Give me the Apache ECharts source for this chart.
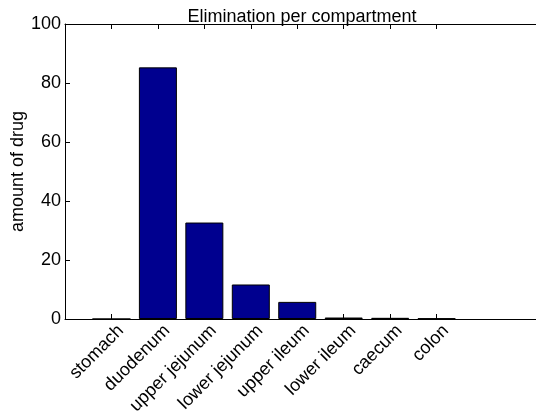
<!DOCTYPE html>
<html>
<head>
<meta charset="utf-8">
<script src="https://cdn.jsdelivr.net/npm/echarts@6/dist/echarts.min.js"></script>
<style>
  html, body { margin: 0; padding: 0; background: #fff; }
  #chart { width: 536px; height: 418px; }
</style>
</head>
<body>
<div id="chart"></div>
<script>
// Compartments of the gut, in order along the tract
const categories = ['stomach', 'duodenum', 'upper jejunum', 'lower jejunum',
                    'upper ileum', 'lower ileum', 'caecum', 'colon'];
// Amount of drug eliminated in each compartment
const amounts = [0, 85.3, 32.7, 11.7, 5.8, 0.5, 0.4, 0.2];
// Y axis tick values
const yTicks = [0, 20, 40, 60, 80, 100];

const positions = categories.map((_, i) => i + 1);
const barData = amounts.map((v, i) => [positions[i], v]);
// rotated labels sit slightly right of their tick
const labelPositions = positions.map(p => p + 0.2);

const font = '"Liberation Sans", Arial, Helvetica, sans-serif';
const chart = echarts.init(document.getElementById('chart'), null, { renderer: 'canvas' });

const xCommon = {
  type: 'value',
  min: 0,
  max: 10.14,
  splitLine: { show: false },
  axisLine: { show: true, onZero: false, lineStyle: { color: '#000', width: 1 } },
  axisTick: { show: true, inside: true, length: 5, customValues: positions,
              lineStyle: { color: '#000', width: 1 } }
};

chart.setOption({
  animation: false,
  title: {
    text: 'Elimination per compartment',
    left: 297,
    textAlign: 'center',
    top: 3,
    textStyle: { fontFamily: font, fontSize: 18, fontWeight: 'normal', color: '#000' }
  },
  grid: { left: 65, top: 24, right: 0, bottom: 99, containLabel: false, outerBoundsMode: 'none' },
  xAxis: [
    Object.assign({}, xCommon, {
      position: 'bottom',
      axisLabel: {
        show: true,
        customValues: labelPositions,
        rotate: 45,
        margin: 9,
        fontFamily: font,
        fontSize: 18,
        color: '#000',
        formatter: v => categories[Math.round(v) - 1] || ''
      }
    }),
    Object.assign({}, xCommon, {
      position: 'top',
      axisLabel: { show: false }
    })
  ],
  yAxis: {
    type: 'value',
    min: yTicks[0],
    max: yTicks[yTicks.length - 1],
    interval: 20,
    name: 'amount of drug',
    nameLocation: 'middle',
    nameGap: 38,
    nameMoveOverlap: false,
    nameRotate: 90,
    nameTextStyle: { fontFamily: font, fontSize: 18, color: '#000' },
    splitLine: { show: false },
    axisLine: { show: true, lineStyle: { color: '#000', width: 1 } },
    axisTick: { show: true, inside: true, length: 5, lineStyle: { color: '#000' } },
    axisLabel: { fontFamily: font, fontSize: 18, color: '#000', margin: 4 }
  },
  series: [{
    type: 'bar',
    xAxisIndex: 0,
    data: barData,
    barWidth: 38,
    itemStyle: { color: '#00008F', borderColor: '#000', borderWidth: 1 }
  }]
});
</script>
</body>
</html>
